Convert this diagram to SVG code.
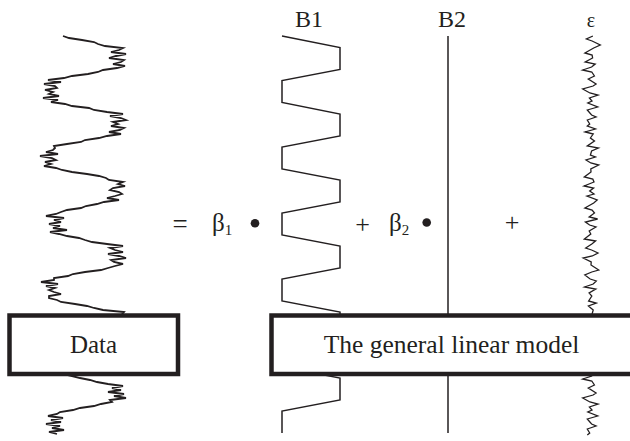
<svg xmlns="http://www.w3.org/2000/svg" width="630" height="441" viewBox="0 0 630 441">
<style>
.t{font-family:"Liberation Serif","Times New Roman",serif;fill:#231f20}
.ln{fill:none;stroke:#231f20;stroke-linejoin:miter}
.box{fill:#fff;stroke:#231f20;stroke-width:4.5}
</style>
<rect width="630" height="441" fill="#fff"/>
<g id="data-series">
<polyline class="ln" stroke-width="1.8" points="63,36 69,38 82,40 94,42 98,44 105,46 123,48 119,50 111,52 126,54 116,56 109,58 124,60 121,62 113,64 125,66 117,68 103,70 98,72 88,74 72,76 64,78 48,80 61,82 44,84 55,86 57,88 45,90 53,92 49,94 59,96 43,98 58,100 51,102 65,104 72,106 89,108 94,110 107,112 123,114 110,116 121,118 126,120 113,122 118,124 111,126 124,128 120,130 109,132 121,134 107,136 99,138 85,140 81,142 67,144 54,146 55,148 53,150 46,152 58,154 40,156 52,158 56,160 45,162 51,164 44,166 56,168 62,170 72,172 87,174 99,176 106,178 109,180 123,182 118,184 125,186 113,188 110,190 119,192 122,194 115,196 107,198 119,200 104,202 97,204 86,206 81,208 67,210 61,212 56,214 46,216 64,218 54,220 61,222 49,224 60,226 53,228 67,230 50,232 59,234 67,236 79,238 85,240 92,242 107,244 123,246 110,248 115,250 123,252 108,254 119,256 126,258 111,260 114,262 123,264 115,266 108,268 101,270 85,272 73,274 68,276 54,278 54,280 41,282 58,284 46,286 55,288 49,290 54,292 61,294 49,296 49,298 57,300 61,302 75,304 87,306 94,308 103,310 124,312 115,322 115,334 55,345 55,372 72,376 80,378 90,380 97,382 108,384 123,386 112,388 121,390 108,392 124,394 114,396 126,398 110,400 112,402 101,404 94,406 80,408 73,410 60,412 57,414 48,416 63,418 51,420 61,422 46,424 60,426 52,428 64,430 49,432 57,434"/>
</g>
<g id="b1-series">
<path class="ln" stroke-width="1.5" d="M282,36 L340,47.5 V69.5 L282,80.5 V102.5 L340,114 V136 L282,147 V169 L340,180 V202 L282,213 V235 L340,246 V268 L282,279 V301 L340,312 V334 L282,345 V367 L340,378 V400 L282,411 V433"/>
<text class="t" x="309" y="27" font-size="24" text-anchor="middle">B1</text>
</g>
<g id="b2-series">
<path class="ln" stroke-width="1.5" d="M448,36 V433"/>
<text class="t" x="452" y="27" font-size="24" text-anchor="middle">B2</text>
</g>
<g id="error-series">
<polyline class="ln" stroke-width="1.3" points="592.9,36 586.4,39 592.1,41 600.3,45 593.7,48 584.9,53 592.1,55 592.6,58 585.2,62 595.2,64 591.6,67 582.7,70 591.8,72 594.4,76 588.3,79 596.1,84 593.1,86 582.7,89 589.9,93 598,95 589.4,98 592,101 587.8,103 597.7,107 587.3,110 591.6,115 596.1,117 587.3,120 589.7,124 587.3,126 595.5,129 585.1,132 593.2,134 590.4,138 594.5,141 587.3,146 598.4,148 591.6,151 590.4,155 595.5,157 586,160 590.8,163 598.7,165 590.8,169 591,172 584.3,177 592.8,179 594,182 584.1,186 593.6,188 589.7,191 594,194 587,196 597.2,200 593.7,203 584.9,208 592.1,210 594.5,213 589.2,217 597.6,219 585.4,222 589.6,225 596,227 589.2,231 590.8,234 584.3,239 595.6,241 591.8,244 585.7,248 591.6,250 598,253 592.3,256 583.2,258 591.2,262 591,265 598.7,270 591.8,272 584.8,275 590.2,279 596.3,281 593.2,284 584.6,287 595.8,289 589.1,293 591.8,296 588.6,301 596.3,303 588.4,306 593.2,310 591,318 591,372 591.6,376 582.7,379 591.8,381 594.4,385 588.3,388 596.1,393 593.1,395 582.7,398 589.9,402 598,404 589.4,407 592,410 587.8,412 597.7,416 587.3,419 591.6,424 596.1,426 587.3,429 589.7,433 587.3,435"/>
<text class="t" x="591" y="26.5" font-size="20" text-anchor="middle">ε</text>
</g>
<g id="equation">
<text class="t" x="180" y="233" font-size="27" text-anchor="middle">=</text>
<text class="t" x="212" y="231" font-size="25">β<tspan font-size="15" dy="4">1</tspan></text>
<circle cx="255" cy="223.3" r="4.3" fill="#231f20"/>
<text class="t" x="362.5" y="233" font-size="26" text-anchor="middle">+</text>
<text class="t" x="389" y="231" font-size="25">β<tspan font-size="15" dy="4">2</tspan></text>
<circle cx="426.7" cy="222.5" r="4.3" fill="#231f20"/>
<text class="t" x="512" y="231" font-size="26" text-anchor="middle">+</text>
</g>
<g id="data-box">
<rect class="box" x="9.5" y="315.5" width="168.5" height="58.5"/>
<text class="t" x="93.5" y="353" font-size="25" text-anchor="middle">Data</text>
</g>
<g id="glm-box">
<rect class="box" x="271.5" y="315.5" width="400" height="58.5"/>
<text class="t" x="451.5" y="353" font-size="25.5" text-anchor="middle">The general linear model</text>
</g>
</svg>
